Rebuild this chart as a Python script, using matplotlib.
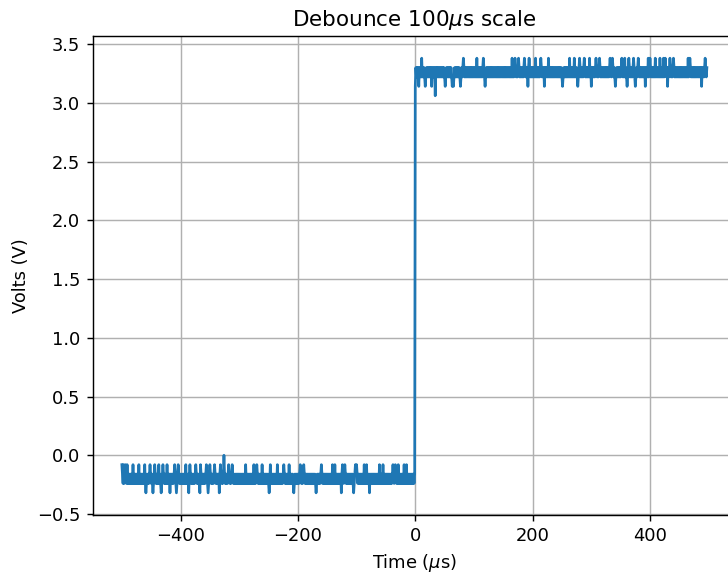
import numpy as np
import matplotlib
matplotlib.use('Agg')
import matplotlib.pyplot as plt

# sample times in microseconds (1 us per sample)
t = np.arange(-500, 498)

# quantised levels (volts)
low_band = [-0.24, -0.16]
low_up = -0.08
low_down = -0.32
low_peak = 0.0
high_band = [3.22, 3.30]
high_up = 3.38
high_down = 3.14
high_dip = 3.06

# times (us) of the noise spikes
low_up_t = [-500, -497, -494, -491, -481, -471, -461, -452, -444, -437, -430,
            -423, -410, -404, -391, -384, -374, -366, -356, -350, -342, -332,
            -318, -312, -289, -275, -270, -261, -247, -235, -224, -215, -196,
            -190, -160, -141, -137, -124, -120, -102, -100, -87, -83, -61, -55,
            -38, -34, -29, -19, -15]
low_down_t = [-459, -447, -433, -418, -407, -386, -367, -353, -334, -249, -207,
              -169, -126, -105, -78]
low_peak_t = [-326]
high_up_t = [11, 82, 105, 116, 165, 170, 176, 186, 194, 205, 214, 227, 263, 271,
             280, 288, 297, 308, 314, 332, 336, 352, 357, 364, 372, 380, 397,
             400, 409, 417, 423, 426, 434, 440, 465, 468, 494]
high_down_t = [0, 6, 17, 28, 51, 63, 65, 77, 119, 192, 220, 251, 277, 300, 341,
               361, 375, 392, 430, 488]
high_dip_t = [34]

v = np.where(t < 0,
             np.where(t % 2 == 0, low_band[0], low_band[1]),
             np.where(t % 2 == 0, high_band[0], high_band[1])).astype(float)

for times, level in [(low_up_t, low_up), (low_down_t, low_down),
                     (low_peak_t, low_peak), (high_up_t, high_up),
                     (high_down_t, high_down), (high_dip_t, high_dip)]:
    for ti in times:
        v[t == ti] = level

dpi = 129
fig = plt.figure(figsize=(728 / dpi, 574 / dpi), dpi=dpi)
ax = fig.add_axes([0.1272, 0.1035, 0.884, 0.833])
ax.plot(t, v)
ax.grid()
ax.set_title('Debounce 100$\\mu$s scale')
ax.set_xlabel('Time ($\\mu$s)')
ax.set_ylabel('Volts (V)')
fig.savefig('out.png', dpi=dpi)
